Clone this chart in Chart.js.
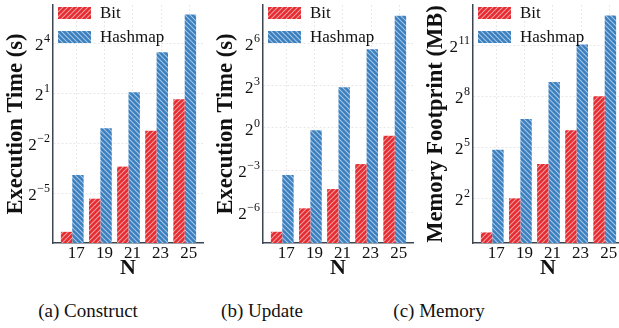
<!DOCTYPE html>
<html>
<head>
<meta charset="utf-8">
<script src="https://cdn.jsdelivr.net/npm/chart.js@4.4.0/dist/chart.umd.min.js"></script>
<style>
  html, body { margin: 0; padding: 0; background: #fff; overflow: hidden; width: 619px; height: 328px; }
  .panel { position: absolute; top: 0; width: 210px; height: 282px; }
  .cap { position: absolute; top: 300px; font: 19px "Liberation Serif", serif; color: #111;
         transform: translateX(-50%); white-space: nowrap; }
</style>
</head>
<body>
<div class="panel" style="left:0"><canvas id="c1" width="210" height="282"></canvas></div>
<div class="panel" style="left:210px"><canvas id="c2" width="210" height="282"></canvas></div>
<div class="panel" style="left:420px"><canvas id="c3" width="210" height="282"></canvas></div>
<div class="cap" style="left:88px">(a) Construct</div>
<div class="cap" style="left:262px">(b) Update</div>
<div class="cap" style="left:439px">(c) Memory</div>
<script>
// values (log2 axes)
const nValues = [17, 19, 21, 23, 25];
const seriesNames = ['Bit', 'Hashmap'];

const constructBit  = [0.0063, 0.025, 0.095, 0.42, 1.56];
const constructHash = [0.067, 0.47, 2.1, 11.0, 53];
const updateBit     = [0.0060, 0.019, 0.049, 0.168, 0.68];
const updateHash    = [0.098, 0.89, 7.4, 47.5, 249];
const memoryBit     = [1.0, 4.0, 16.2, 64, 256];
const memoryHash    = [29, 101, 455, 2100, 6800];

// tick exponents (labels are 2^e)
const constructTicks = [-5, -2, 1, 4];
const updateTicks    = [-6, -3, 0, 3, 6];
const memoryTicks    = [2, 5, 8, 11];

// axis limits as exponents of 2
const constructRange = [-7.98, 6.3];
const updateRange    = [-8.18, 8.72];
const memoryRange    = [-0.62, 13.35];

const SERIF = '"Liberation Serif", "Times New Roman", serif';
const RED = '#e52a30';
const BLUE = '#3a7fc0';
const SPINE = '#3b4652';

function hatch(color, forward) {
  const s = 5;
  const c = document.createElement('canvas');
  c.width = s; c.height = s;
  const g = c.getContext('2d');
  g.fillStyle = color;
  g.fillRect(0, 0, s, s);
  g.strokeStyle = 'rgba(255,255,255,0.55)';
  g.lineWidth = 1.1;
  g.beginPath();
  if (forward) {
    g.moveTo(0, s); g.lineTo(s, 0);
    g.moveTo(-1, 1); g.lineTo(1, -1);
    g.moveTo(s - 1, s + 1); g.lineTo(s + 1, s - 1);
  } else {
    g.moveTo(0, 0); g.lineTo(s, s);
    g.moveTo(-1, s - 1); g.lineTo(1, s + 1);
    g.moveTo(s - 1, -1); g.lineTo(s + 1, 1);
  }
  g.stroke();
  return g.createPattern(c, 'repeat');
}

const redFill = hatch(RED, true);
const blueFill = hatch(BLUE, false);

const decor = {
  id: 'decor',
  beforeDatasetsDraw(chart) {
    const { ctx, chartArea } = chart;
    const x = chart.scales.x;
    ctx.save();
    ctx.strokeStyle = '#e3e3e3';
    ctx.lineWidth = 0.8;
    ctx.setLineDash([2, 2]);
    nValues.forEach(n => {
      const px = Math.round(x.getPixelForValue(n) + 4) + 0.5;
      ctx.beginPath();
      ctx.moveTo(px, chartArea.top);
      ctx.lineTo(px, chartArea.bottom);
      ctx.stroke();
    });
    ctx.restore();
  },
  afterDraw(chart, args, opts) {
    const { ctx, chartArea } = chart;
    const y = chart.scales.y;
    ctx.save();
    ctx.fillStyle = '#111';
    const xr = chartArea.left - 3;
    opts.ticks.forEach(e => {
      const py = y.getPixelForValue(Math.pow(2, e));
      const ex = e < 0 ? '\u2212' + Math.abs(e) : String(e);
      ctx.font = '12px ' + SERIF;
      ctx.textAlign = 'right';
      ctx.textBaseline = 'alphabetic';
      const w = ctx.measureText(ex).width;
      ctx.fillText(ex, xr, py - 1);
      ctx.font = '17px ' + SERIF;
      ctx.fillText('2', xr - w - 0.5, py + 7);
    });
    // legend
    const fills = [redFill, blueFill];
    ctx.font = '17px ' + SERIF;
    ctx.textAlign = 'left';
    ctx.textBaseline = 'middle';
    seriesNames.forEach((name, i) => {
      const top = 7 + i * 24;
      ctx.fillStyle = fills[i];
      ctx.fillRect(chartArea.left + 5, top, 33, 12);
      ctx.fillStyle = '#111';
      ctx.fillText(name, chartArea.left + 47, top + 6.5);
    });
    ctx.restore();
  }
};

function makeChart(id, yTitle, bit, hash, tickExps, range) {
  new Chart(document.getElementById(id), {
    type: 'bar',
    data: {
      datasets: [
        { label: seriesNames[0], data: nValues.map((n, i) => ({ x: n, y: bit[i] })),
          backgroundColor: redFill, borderWidth: 0 },
        { label: seriesNames[1], data: nValues.map((n, i) => ({ x: n, y: hash[i] })),
          backgroundColor: blueFill, borderWidth: 0 }
      ]
    },
    options: {
      responsive: false,
      animation: false,
      devicePixelRatio: 1,
      layout: { padding: { top: 5, right: 7, left: 0, bottom: 0 } },
      datasets: { bar: { categoryPercentage: 0.81, barPercentage: 1.0 } },
      plugins: {
        legend: { display: false },
        tooltip: { enabled: false },
        decor: { ticks: tickExps }
      },
      scales: {
        x: {
          type: 'linear',
          offset: false,
          min: 15.63, max: 26.3,
          afterBuildTicks: s => { s.ticks = nValues.map(v => ({ value: v })); },
          afterFit: s => { s.height = 39; },
          ticks: { font: { family: SERIF, size: 17 }, color: '#111', padding: 0,
                   labelOffset: 4, maxRotation: 0, autoSkip: false, callback: v => String(v) },
          grid: { display: false, drawTicks: false, offset: false },
          border: { color: SPINE, width: 1.5 },
          title: { display: true, text: 'N', color: '#111', padding: { top: 0, bottom: 0 },
                   font: { family: SERIF, size: 22, weight: 'bold' } }
        },
        y: {
          type: 'logarithmic',
          min: Math.pow(2, range[0]), max: Math.pow(2, range[1]),
          afterBuildTicks: s => { s.ticks = tickExps.map(e => ({ value: Math.pow(2, e) })); },
          afterFit: s => { s.width = 53; },
          ticks: { display: false },
          grid: { color: '#e3e3e3', lineWidth: 0.8, drawTicks: false },
          border: { color: SPINE, width: 1.5, dash: [2, 2] },
          title: { display: true, text: yTitle, color: '#111', padding: { top: 3, bottom: 0 },
                   font: { family: SERIF, size: 22.5, weight: 'bold' } }
        }
      }
    },
    plugins: [decor]
  });
}

makeChart('c1', 'Execution Time (s)', constructBit, constructHash, constructTicks, constructRange);
makeChart('c2', 'Execution Time (s)', updateBit, updateHash, updateTicks, updateRange);
makeChart('c3', 'Memory Footprint (MB)', memoryBit, memoryHash, memoryTicks, memoryRange);
</script>
</body>
</html>
